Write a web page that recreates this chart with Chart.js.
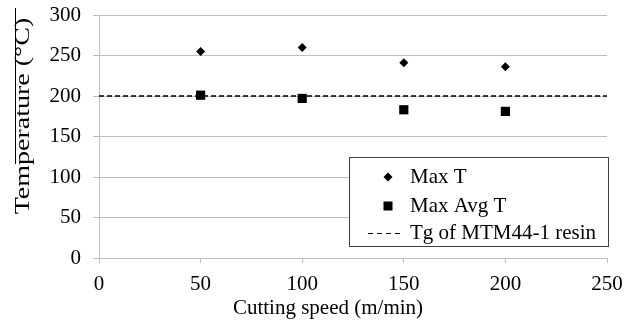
<!DOCTYPE html>
<html>
<head>
<meta charset="utf-8">
<script src="https://cdn.jsdelivr.net/npm/chart.js@4"></script>
<style>
  html, body { margin: 0; padding: 0; background: #fff; }
  #wrap { width: 635px; height: 322px; }
</style>
</head>
<body>
<div id="wrap"><canvas id="chart" width="635" height="322"></canvas></div>
<script>
// data
const speeds = [50, 100, 150, 200];
const maxT = [255, 260, 241, 236];
const maxAvgT = [201, 197, 183, 181];
const tgSpeeds = [0, 250];
const tgValue = 200;
const xTicks = [0, 50, 100, 150, 200, 250];
const yTicks = [0, 50, 100, 150, 200, 250, 300];

const FONT = '"Liberation Serif", "Times New Roman", serif';

// draws titles, the legend box and the stray rule on the left
const extrasPlugin = {
    id: 'extras',
    afterDraw(chart) {
        const ctx = chart.ctx;
        ctx.save();
        ctx.fillStyle = '#000';
        ctx.font = '20px ' + FONT;

        // x title
        ctx.textAlign = 'center';
        ctx.textBaseline = 'middle';
        ctx.save();
        ctx.translate(328, 309);
        ctx.scale(1.05, 1);
        ctx.fillText('Cutting speed (m/min)', 0, 0);
        ctx.restore();

        // y title, stretched along its length like the original
        ctx.save();
        ctx.translate(24, 116);
        ctx.rotate(-Math.PI / 2);
        ctx.scale(1.4, 1);
        ctx.fillText('Temperature (°C)', 0, 0);
        ctx.restore();

        // thin black rule left of the y title
        ctx.strokeStyle = '#000';
        ctx.lineWidth = 1;
        ctx.beginPath();
        ctx.moveTo(15.5, 8);
        ctx.lineTo(15.5, 164);
        ctx.stroke();

        // legend
        ctx.fillStyle = '#fff';
        ctx.fillRect(349, 157, 259, 89);
        ctx.strokeStyle = '#404040';
        ctx.strokeRect(349.5, 157.5, 259, 89);

        const rows = [177, 206, 233];
        ctx.textAlign = 'left';
        ctx.fillStyle = '#000';
        ctx.font = '21px ' + FONT;
        chart.data.datasets.forEach((ds, i) => {
            const y = rows[i];
            if (ds.pointStyle === 'rectRot') {
                ctx.beginPath();
                ctx.moveTo(388, y - 4.5);
                ctx.lineTo(392.5, y);
                ctx.lineTo(388, y + 4.5);
                ctx.lineTo(383.5, y);
                ctx.closePath();
                ctx.fill();
            } else if (ds.pointStyle === 'rect') {
                ctx.fillRect(383.5, y - 4.5, 9, 9);
            } else {
                ctx.setLineDash([5, 4]);
                ctx.strokeStyle = '#000';
                ctx.beginPath();
                ctx.moveTo(368, y + 0.5);
                ctx.lineTo(401, y + 0.5);
                ctx.stroke();
                ctx.setLineDash([]);
            }
            ctx.fillText(ds.label, 410, y);
        });
        ctx.restore();
    }
};

new Chart(document.getElementById('chart'), {
    type: 'scatter',
    data: {
        datasets: [
            {
                label: 'Max T',
                data: speeds.map((s, i) => ({ x: s, y: maxT[i] })),
                pointStyle: 'rectRot',
                pointRadius: 4.5,
                backgroundColor: '#000',
                borderColor: '#000',
                borderWidth: 0
            },
            {
                label: 'Max Avg T',
                data: speeds.map((s, i) => ({ x: s, y: maxAvgT[i] })),
                pointStyle: 'rect',
                pointRadius: 6.5,
                backgroundColor: '#000',
                borderColor: '#000',
                borderWidth: 0
            },
            {
                type: 'line',
                label: 'Tg of MTM44-1 resin',
                data: tgSpeeds.map(s => ({ x: s, y: tgValue })),
                borderColor: '#000',
                borderWidth: 1.3,
                borderDash: [5, 3],
                pointRadius: 0,
                pointStyle: 'line',
                fill: false
            }
        ]
    },
    options: {
        responsive: false,
        animation: false,
        layout: { padding: { top: 15, right: 28, left: 0, bottom: 0 } },
        plugins: {
            legend: { display: false },
            tooltip: { enabled: false }
        },
        scales: {
            x: {
                type: 'linear',
                min: 0,
                max: 250,
                afterBuildTicks: scale => { scale.ticks = xTicks.map(v => ({ value: v })); },
                afterFit: scale => {
                    scale.height = 322 - 258;
                    scale.paddingLeft = 0;
                    scale.paddingRight = 0;
                },
                border: { color: '#bfbfbf', width: 1 },
                grid: { drawOnChartArea: false, drawTicks: true, tickLength: 5, color: '#bfbfbf' },
                ticks: { color: '#000', font: { family: FONT, size: 21 }, padding: 9 }
            },
            y: {
                min: 0,
                max: 300,
                afterBuildTicks: scale => { scale.ticks = yTicks.map(v => ({ value: v })); },
                afterFit: scale => {
                    scale.width = 99;
                    scale.paddingTop = 0;
                    scale.paddingBottom = 0;
                },
                border: { color: '#bfbfbf', width: 1 },
                grid: { color: '#bfbfbf', tickLength: 6 },
                ticks: { color: '#000', font: { family: FONT, size: 21 }, padding: 12 }
            }
        }
    },
    plugins: [extrasPlugin]
});
</script>
</body>
</html>
